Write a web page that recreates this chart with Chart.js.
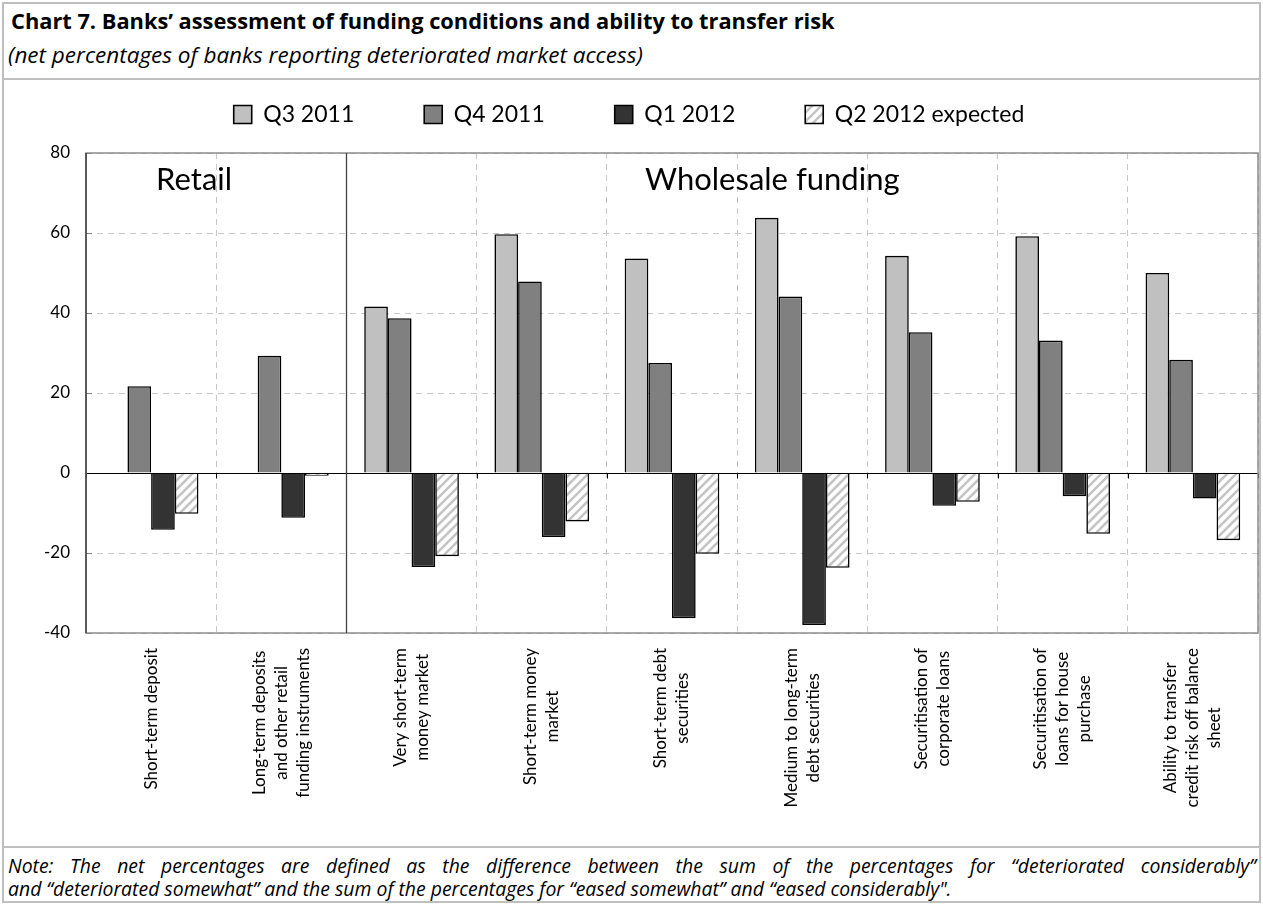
<!DOCTYPE html>
<html>
<head>
<meta charset="utf-8">
<script src="https://cdn.jsdelivr.net/npm/chart.js@4.4.0/dist/chart.umd.min.js"></script>
<style>
  body { margin: 0; background: #fff; }
  #frame { position: relative; width: 1263px; height: 905px; overflow: hidden; font-family: Lato, sans-serif; color: #000; }
  .rule { position: absolute; background: #bfbfbf; }
  #chartBox { position: absolute; left: 0; top: 0; width: 1263px; height: 905px; }
  .txt { position: absolute; white-space: nowrap; width: max-content; font-family: 'Open Sans', sans-serif; line-height: 1.2; }
  #title { left: 11px; top: 8px; font-size: 18px; font-weight: bold; }
  #subtitle { left: 8px; top: 41px; font-size: 18px; font-style: italic; }
  .note { left: 8px; font-size: 19.4px; font-style: italic; }
  #note1 { top: 854px; }
  #note2 { top: 877px; }
</style>
</head>
<body>
<div id="frame">
  <div class="rule" style="left:2px;top:2px;width:1259px;height:2px"></div>
  <div class="rule" style="left:2px;top:901px;width:1259px;height:2px"></div>
  <div class="rule" style="left:2px;top:2px;width:2px;height:901px"></div>
  <div class="rule" style="left:1259px;top:2px;width:2px;height:901px"></div>
  <div class="rule" style="left:2px;top:78px;width:1259px;height:2px"></div>
  <div class="rule" style="left:2px;top:846px;width:1259px;height:2px"></div>

  <div id="title" class="txt">Chart 7. Banks’ assessment of funding conditions and ability to transfer risk</div>
  <div id="subtitle" class="txt">(net percentages of banks reporting deteriorated market access)</div>
  <div id="note1" class="txt note">Note: The net percentages are defined as the difference between the sum of the percentages for “deteriorated considerably”</div>
  <div id="note2" class="txt note">and “deteriorated somewhat” and the sum of the percentages for “eased somewhat” and “eased considerably".</div>

  <div id="chartBox"><canvas id="myChart" width="1263" height="905"></canvas></div>
</div>

<script>
'use strict';

// *Data*
let categories = [
  ['Short-term deposit'],
  ['Long-term deposits', 'and other retail', 'funding instruments'],
  ['Very short-term', 'money market'],
  ['Short-term money', 'market'],
  ['Short-term debt', 'securities'],
  ['Medium to long-term', 'debt securities'],
  ['Securitisation of', 'corporate loans'],
  ['Securitisation of', 'loans for house', 'purchase'],
  ['Ability to transfer', 'credit risk off balance', 'sheet']
];
let seriesNames = ['Q3 2011', 'Q4 2011', 'Q1 2012', 'Q2 2012 expected'];
let q3_2011 = [null, null, 41.6, 59.7, 53.6, 63.8, 54.3, 59.2, 50.0];
let q4_2011 = [21.7, 29.3, 38.7, 47.9, 27.5, 44.1, 35.2, 33.1, 28.3];
let q1_2012 = [-14.2, -11.2, -23.5, -16.0, -36.3, -38.0, -8.2, -5.8, -6.4];
let q2_2012Expected = [-10.2, -0.7, -20.8, -12.1, -20.2, -23.7, -7.2, -15.2, -16.8];
let yMin = -40;
let yMax = 80;
let yStep = 20;
let groupNames = ['Retail', 'Wholesale funding'];

// *Text sizing* - heading fonts fitted to the reference widths
function fitWidth(el, target) {
  let w = el.getBoundingClientRect().width;
  let fs = parseFloat(getComputedStyle(el).fontSize);
  el.style.fontSize = (fs * target / w).toFixed(2) + 'px';
}
fitWidth(document.getElementById('title'), 824);
fitWidth(document.getElementById('subtitle'), 635);

// note keeps its size, word spacing stretches line 1 to the full width (like justify)
let note1 = document.getElementById('note1');
let note2 = document.getElementById('note2');
let gaps = note1.textContent.split(' ').length - 1;
let extra = Math.max(0, (1248 - note1.getBoundingClientRect().width) / gaps);
note1.style.wordSpacing = extra.toFixed(2) + 'px';

// *Helpers*
function makeHatch() {
  let c = document.createElement('canvas');
  c.width = 9;
  c.height = 9;
  let g = c.getContext('2d');
  g.fillStyle = '#ffffff';
  g.fillRect(0, 0, 9, 9);
  g.strokeStyle = '#c4c4c4';
  g.lineWidth = 2.6;
  g.beginPath();
  g.moveTo(0, 9); g.lineTo(9, 0);
  g.moveTo(-3, 3); g.lineTo(3, -3);
  g.moveTo(6, 12); g.lineTo(12, 6);
  g.stroke();
  return g.createPattern(c, 'repeat');
}

Chart.defaults.font.family = 'Lato, sans-serif';
Chart.defaults.color = '#000';

// extra drawing: zero line, frame, section divider, group titles, category labels
let decorations = {
  id: 'decorations',
  afterInit(chart) {
    let legend = chart.legend;
    let origFit = legend.fit;
    legend.fit = function () {
      origFit.call(this);
      this.height = 120;
    };
  },
  afterDatasetsDraw(chart) {
    let ctx = chart.ctx;
    let area = chart.chartArea;
    let x = chart.scales.x;
    let y = chart.scales.y;
    ctx.save();

    // small inside ticks on the value axis
    ctx.strokeStyle = '#808080';
    ctx.lineWidth = 1;
    for (let v = yMin; v <= yMax; v += yStep) {
      let py = Math.round(y.getPixelForValue(v)) + 0.5;
      ctx.beginPath();
      ctx.moveTo(area.left, py);
      ctx.lineTo(area.left + 6, py);
      ctx.stroke();
    }

    // zero line with tick marks at category boundaries
    let zy = Math.round(y.getPixelForValue(0)) + 0.5;
    ctx.strokeStyle = '#000';
    ctx.beginPath();
    ctx.moveTo(area.left, zy);
    ctx.lineTo(area.right, zy);
    for (let i = 0; i <= categories.length; i++) {
      let px = Math.round(x.getPixelForValue(i - 0.5)) + 0.5;
      ctx.moveTo(px, zy);
      ctx.lineTo(px, zy + 5);
    }
    ctx.stroke();

    // plot frame
    ctx.strokeStyle = '#8c8c8c';
    ctx.lineWidth = 1.5;
    ctx.strokeRect(area.left, area.top, area.right - area.left, area.bottom - area.top);
    ctx.strokeStyle = '#404040';
    ctx.beginPath();
    ctx.moveTo(area.left, area.top);
    ctx.lineTo(area.left, area.bottom);
    ctx.stroke();

    // retail / wholesale divider
    let dx = Math.round(x.getPixelForValue(1.5)) + 0.5;
    ctx.strokeStyle = '#404040';
    ctx.lineWidth = 1.3;
    ctx.beginPath();
    ctx.moveTo(dx, area.top);
    ctx.lineTo(dx, area.bottom);
    ctx.stroke();

    // group names
    ctx.fillStyle = '#000';
    ctx.font = '31px Lato, sans-serif';
    ctx.textAlign = 'center';
    ctx.textBaseline = 'middle';
    ctx.fillText(groupNames[0], x.getPixelForValue(0.33), area.top + 27);
    ctx.fillText(groupNames[1], x.getPixelForValue(4.77), area.top + 27);

    // rotated, centred multi-line category labels
    ctx.font = '17px Lato, sans-serif';
    let lineGap = 22;
    categories.forEach((lines, i) => {
      let cx = x.getPixelForValue(i);
      let maxW = Math.max(...lines.map(l => ctx.measureText(l).width));
      ctx.save();
      ctx.translate(cx, area.bottom + 15);
      ctx.rotate(-Math.PI / 2);
      lines.forEach((l, j) => {
        ctx.fillText(l, -maxW / 2, (j - (lines.length - 1) / 2) * lineGap);
      });
      ctx.restore();
    });
    ctx.restore();
  }
};

let hatch = makeHatch();
let seriesColors = ['#c0c0c0', '#808080', '#333333', hatch];
let seriesData = [q3_2011, q4_2011, q1_2012, q2_2012Expected];

let ctx = document.getElementById('myChart');

let myChartObj = {
  type: 'bar',
  data: {
    labels: categories.map(c => c.join(' ')),
    datasets: seriesNames.map((name, i) => ({
      label: name,
      data: seriesData[i],
      backgroundColor: seriesColors[i],
      borderColor: '#000',
      borderWidth: 1.6,
      categoryPercentage: 0.727,
      barPercentage: 1
    }))
  },
  options: {
    responsive: false,
    animation: false,
    layout: { padding: { top: 33, right: 5, left: 0, bottom: 0 } },
    plugins: {
      tooltip: { enabled: false },
      legend: {
        position: 'top',
        labels: {
          boxWidth: 18,
          boxHeight: 18,
          padding: 70,
          color: '#000',
          font: { size: 23 }
        }
      }
    },
    scales: {
      x: {
        grid: { color: '#c8c8c8', drawTicks: false, offset: true },
        border: { display: false, dash: [6, 5] },
        ticks: { display: false },
        afterFit(s) { s.height = 905 - 633; }
      },
      y: {
        min: yMin,
        max: yMax,
        ticks: { stepSize: yStep, padding: 16, font: { size: 17 }, color: '#000' },
        grid: { color: '#c8c8c8', drawTicks: false },
        border: { display: false, dash: [6, 5] },
        afterFit(s) { s.width = 86; }
      }
    }
  },
  plugins: [decorations]
};

new Chart(ctx, myChartObj);
</script>
</body>
</html>
